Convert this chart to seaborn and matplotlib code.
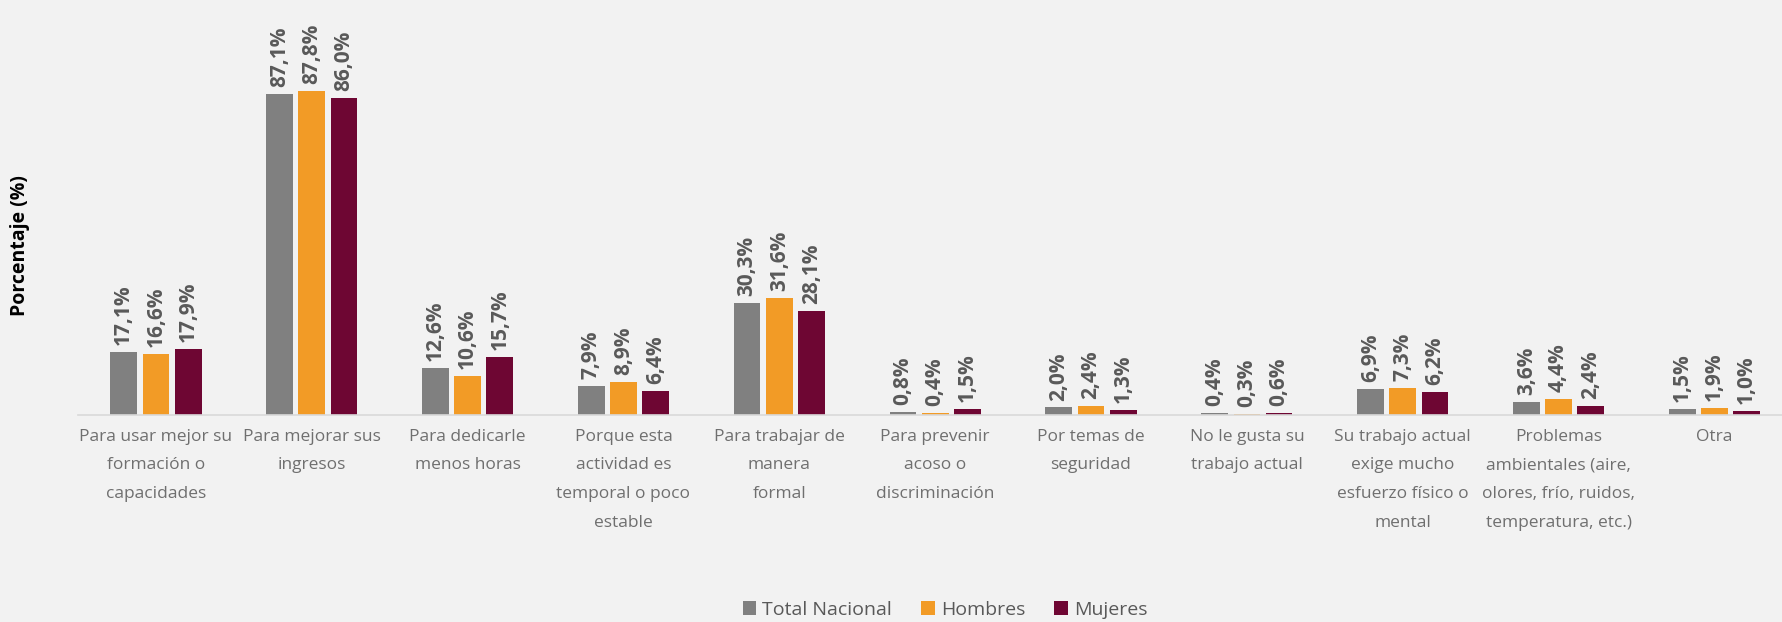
import pandas as pd
import matplotlib.pyplot as plt
import seaborn as sns

# --- data ---
categories = [
    "Para usar mejor su\nformación o\ncapacidades",
    "Para mejorar sus\ningresos",
    "Para dedicarle\nmenos horas",
    "Porque esta\nactividad es\ntemporal o poco\nestable",
    "Para trabajar de\nmanera\nformal",
    "Para prevenir\nacoso o\ndiscriminación",
    "Por temas de\nseguridad",
    "No le gusta su\ntrabajo actual",
    "Su trabajo actual\nexige mucho\nesfuerzo físico o\nmental",
    "Problemas\nambientales (aire,\nolores, frío, ruidos,\ntemperatura, etc.)",
    "Otra",
]
series = ["Total Nacional", "Hombres", "Mujeres"]
total_nacional = [17.1, 87.1, 12.6, 7.9, 30.3, 0.8, 2.0, 0.4, 6.9, 3.6, 1.5]
hombres = [16.6, 87.8, 10.6, 8.9, 31.6, 0.4, 2.4, 0.3, 7.3, 4.4, 1.9]
mujeres = [17.9, 86.0, 15.7, 6.4, 28.1, 1.5, 1.3, 0.6, 6.2, 2.4, 1.0]

colors = {"Total Nacional": "#808080", "Hombres": "#F29B26", "Mujeres": "#6E0633"}
bg = "#F2F2F2"

df = pd.DataFrame({
    "Motivo": categories * 3,
    "Grupo": [s for s in series for _ in categories],
    "Valor": total_nacional + hombres + mujeres,
})

sns.set_style("white")
plt.rcParams["font.family"] = ["Open Sans", "DejaVu Sans"]

fig = plt.figure(figsize=(17.83, 6.22), dpi=100, facecolor=bg)
ax = fig.add_axes([78 / 1783, 0.333, 1 - 78 / 1783, 0.593])
ax.set_facecolor(bg)

sns.barplot(data=df, x="Motivo", y="Valor", hue="Grupo", hue_order=series,
            palette=colors, width=0.62, gap=0.17, saturation=1,
            linewidth=0, edgecolor="none", errorbar=None, ax=ax)

for container in ax.containers:
    ax.bar_label(container, labels=[f"{v:.1f}%".replace(".", ",") for v in container.datavalues],
                 rotation=90, padding=5, fontsize=15, fontweight="bold", color="#595959")

ax.set_xlim(-0.5, 10.44)
ax.set_ylim(0, 100)
ax.set_yticks([])
ax.set_xlabel("")
ax.set_ylabel("")
for s in ["top", "right", "left"]:
    ax.spines[s].set_visible(False)
ax.spines["bottom"].set_color("#D9D9D9")
ax.spines["bottom"].set_linewidth(1.2)
ax.tick_params(axis="x", length=0, pad=10, labelsize=12.5, labelcolor="#6F6F6F")
for lbl in ax.get_xticklabels():
    lbl.set_linespacing(2.05)

fig.text(0.011, 0.606, "Porcentaje (%)", rotation=90, ha="center", va="center",
         fontsize=14, fontweight="bold", color="#000000")

handles, labels = ax.get_legend_handles_labels()
ax.get_legend().remove()
leg = fig.legend(handles, labels, loc="center", bbox_to_anchor=(0.53, 0.02), ncol=3,
                 frameon=False, fontsize=14, handlelength=0.7, handleheight=0.7,
                 handletextpad=0.3, columnspacing=1.5)
for t in leg.get_texts():
    t.set_color("#595959")

fig.savefig("out.png", dpi=100, facecolor=bg)
